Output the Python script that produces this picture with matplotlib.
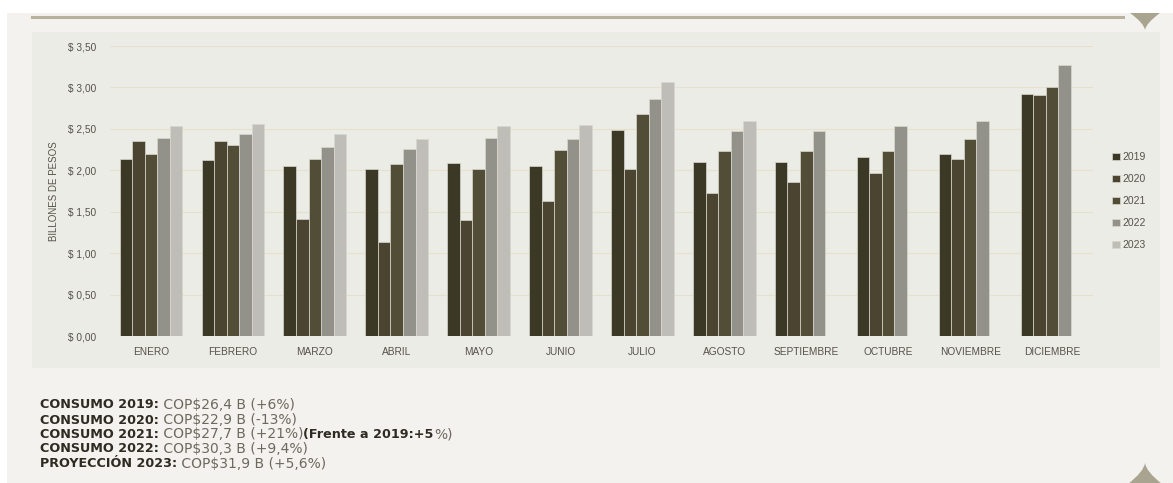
import numpy as np
import matplotlib
matplotlib.use('Agg')
import matplotlib.pyplot as plt
from matplotlib.patches import Rectangle, PathPatch
from matplotlib.path import Path
from matplotlib.lines import Line2D

# Data (billones de pesos)
months = ['ENERO', 'FEBRERO', 'MARZO', 'ABRIL', 'MAYO', 'JUNIO', 'JULIO',
          'AGOSTO', 'SEPTIEMBRE', 'OCTUBRE', 'NOVIEMBRE', 'DICIEMBRE']
years = ['2019', '2020', '2021', '2022', '2023']
v2019 = [2.14, 2.13, 2.05, 2.02, 2.09, 2.05, 2.49, 2.10, 2.10, 2.16, 2.20, 2.92]
v2020 = [2.35, 2.35, 1.41, 1.14, 1.40, 1.63, 2.02, 1.72, 1.86, 1.97, 2.14, 2.91]
v2021 = [2.20, 2.30, 2.14, 2.07, 2.02, 2.24, 2.68, 2.23, 2.23, 2.23, 2.38, 3.00]
v2022 = [2.39, 2.44, 2.28, 2.26, 2.39, 2.38, 2.86, 2.47, 2.47, 2.53, 2.59, 3.27]
v2023 = [2.54, 2.56, 2.44, 2.38, 2.54, 2.55, 3.06, 2.59, np.nan, np.nan, np.nan, np.nan]
series = [v2019, v2020, v2021, v2022, v2023]
colors = ['#3c3826', '#4a4430', '#524d36', '#92918a', '#bebdb8']
yticks = [0, 0.5, 1.0, 1.5, 2.0, 2.5, 3.0, 3.5]
ytick_labels = ['$ 0,00', '$ 0,50', '$ 1,00', '$ 1,50', '$ 2,00', '$ 2,50', '$ 3,00', '$ 3,50']

notes = [
    [('CONSUMO 2019:', 'bold'), (' COP$26,4 B (+6%)', 'normal')],
    [('CONSUMO 2020:', 'bold'), (' COP$22,9 B (-13%)', 'normal')],
    [('CONSUMO 2021:', 'bold'), (' COP$27,7 B (+21%)', 'normal'),
     ('(Frente a 2019:+5', 'bold'), ('%)', 'normal')],
    [('CONSUMO 2022:', 'bold'), (' COP$30,3 B (+9,4%)', 'normal')],
    [('PROYECCIÓN 2023:', 'bold'), (' COP$31,9 B (+5,6%)', 'normal')],
]

W, H = 1173, 483
fig = plt.figure(figsize=(W / 100, H / 100), dpi=100)
fig.patch.set_facecolor('white')


def fx(x):
    return x / W


def fy(y):
    return 1 - y / H


# card and panel backgrounds
fig.patches.append(Rectangle((fx(7), 0), fx(1173) - fx(7), fy(13), transform=fig.transFigure,
                             facecolor='#f3f2ee', edgecolor='none', zorder=-3))
fig.patches.append(Rectangle((fx(32), fy(368)), fx(1160) - fx(32), fy(32) - fy(368),
                             transform=fig.transFigure, facecolor='#ecece6',
                             edgecolor='none', zorder=-2))
fig.lines.append(Line2D([fx(32), fx(1123)], [fy(16.5), fy(16.5)], transform=fig.transFigure,
                        color='#b7b19f', linewidth=2.2, zorder=-1))

# decorative spikes
def spike(xl, xr, ybase, ytip):
    xm = (xl + xr) / 2
    verts = [(fx(xl), fy(ybase)), (fx(xm - 1), fy((ybase + ytip) / 2 + (ytip - ybase) * 0.1)),
             (fx(xm), fy(ytip)),
             (fx(xm + 1), fy((ybase + ytip) / 2 + (ytip - ybase) * 0.1)), (fx(xr), fy(ybase)),
             (fx(xl), fy(ybase))]
    codes = [Path.MOVETO, Path.CURVE3, Path.CURVE3, Path.CURVE3, Path.CURVE3, Path.CLOSEPOLY]
    fig.patches.append(PathPatch(Path(verts, codes), transform=fig.transFigure,
                                 facecolor='#a9a48f', edgecolor='none', zorder=-1))


spike(1130, 1160, 13, 30)
spike(1128, 1162, 484, 463)

ax = fig.add_axes([fx(110), fy(336), fx(1093) - fx(110), fy(46) - fy(336)])
ax.set_facecolor('none')

x = np.arange(len(months))
bw = 0.153
for i, (vals, c, yr) in enumerate(zip(series, colors, years)):
    ax.bar(x + (i - 2) * bw, vals, bw, color=c, edgecolor='#d9d7cd', linewidth=0.5,
           label=yr, zorder=3)

ax.set_xlim(-0.5, len(months) - 0.5)
ax.set_ylim(0, 3.5)
ax.set_yticks(yticks)
ax.set_yticklabels(ytick_labels)
ax.set_xticks(x)
ax.set_xticklabels(months)
ax.tick_params(length=0, labelsize=7.3, labelcolor='#55524a')
ax.tick_params(axis='y', pad=10)
ax.tick_params(axis='x', pad=8)
for lab in ax.get_xticklabels() + ax.get_yticklabels():
    lab.set_family('Liberation Sans')
ax.grid(axis='y', color='#e6e0cf', linewidth=0.8, zorder=0)
for s in ax.spines.values():
    s.set_visible(False)
ax.set_ylabel('BILLONES DE PESOS', fontsize=7, color='#55524a', family='Liberation Sans')
ax.yaxis.set_label_coords(-0.052, 0.5)

leg = fig.legend(loc='upper left', bbox_to_anchor=(fx(1103), fy(143)), frameon=False,
                 handlelength=0.7, handleheight=0.7, handletextpad=0.3, labelspacing=1.15,
                 prop={'family': 'Liberation Sans', 'size': 7.5})
for t in leg.get_texts():
    t.set_color('#55524a')

# notes under the chart
fig.canvas.draw()
renderer = fig.canvas.get_renderer()
line_y = [405, 420, 434.5, 449, 463.5]
for parts, yy in zip(notes, line_y):
    xpos = fx(40)
    for txt, weight in parts:
        bold = weight == 'bold'
        t = fig.text(xpos, fy(yy), txt, fontsize=9.2 if bold else 10, fontweight=weight,
                     family='DejaVu Sans', color='#2e2b22' if bold else '#6d695f',
                     va='center', ha='left')
        bb = t.get_window_extent(renderer)
        xpos = bb.x1 / W

fig.savefig('out.png', dpi=100, facecolor=fig.get_facecolor())
